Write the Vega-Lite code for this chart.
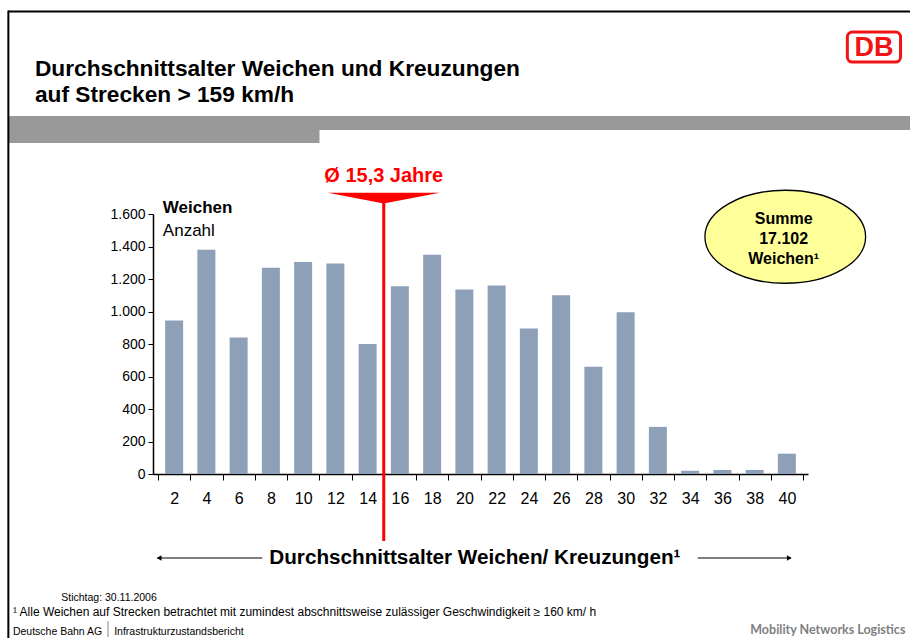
{
  "$schema": "https://vega.github.io/schema/vega-lite/v6.json",
  "width": 655,
  "height": 260,
  "autosize": "none",
  "padding": {"left": 153, "top": 214, "right": 102, "bottom": 164},
  "background": "white",
  "config": {"view": {"stroke": null}, "font": "Liberation Sans", "text": {"font": "Liberation Sans", "color": "black"}},
  "resolve": {"axis": {"x": "independent", "y": "independent"}},
  "datasets": {
    "weichen": [
      {"alter": 2, "anzahl": 945},
      {"alter": 4, "anzahl": 1380},
      {"alter": 6, "anzahl": 840},
      {"alter": 8, "anzahl": 1270},
      {"alter": 10, "anzahl": 1305},
      {"alter": 12, "anzahl": 1295},
      {"alter": 14, "anzahl": 800},
      {"alter": 16, "anzahl": 1155},
      {"alter": 18, "anzahl": 1350},
      {"alter": 20, "anzahl": 1135},
      {"alter": 22, "anzahl": 1160},
      {"alter": 24, "anzahl": 895},
      {"alter": 26, "anzahl": 1100},
      {"alter": 28, "anzahl": 660},
      {"alter": 30, "anzahl": 995},
      {"alter": 32, "anzahl": 290},
      {"alter": 34, "anzahl": 20},
      {"alter": 36, "anzahl": 25},
      {"alter": 38, "anzahl": 25},
      {"alter": 40, "anzahl": 125}
    ],
    "one": [{}]
  },
  "layer": [
    {
      "data": {"name": "weichen"},
      "mark": {"type": "bar", "width": 18, "color": "#8E9FB8"},
      "encoding": {
        "x": {
          "field": "alter", "type": "quantitative",
          "scale": {"domain": [1, 41], "nice": false, "zero": false},
          "axis": {
            "orient": "bottom",
            "values": [1,2,3,4,5,6,7,8,9,10,11,12,13,14,15,16,17,18,19,20,21,22,23,24,25,26,27,28,29,30,31,32,33,34,35,36,37,38,39,40,41],
            "title": null, "grid": false,
            "domainColor": "black", "domainWidth": 1.5,
            "tickColor": "black", "tickSize": 6, "tickWidth": 1,
            "tickOpacity": {"condition": {"test": "datum.value % 2 === 1", "value": 1}, "value": 0},
            "labelExpr": "datum.value % 2 === 0 ? datum.label : ''",
            "labelFontSize": 16, "labelColor": "black", "labelPadding": 10,
            "labelOverlap": false, "labelFlush": false
          }
        },
        "y": {
          "field": "anzahl", "type": "quantitative",
          "scale": {"domain": [0, 1600], "nice": false},
          "axis": {
            "orient": "left",
            "values": [0, 200, 400, 600, 800, 1000, 1200, 1400, 1600],
            "title": null, "grid": false,
            "domainColor": "black", "domainWidth": 1.5,
            "tickColor": "black", "tickSize": 5,
            "labelExpr": "replace(format(datum.value, ','), ',', '.')",
            "labelFontSize": 14, "labelColor": "black", "labelPadding": 3
          }
        }
      }
    },
    {
      "data": {"name": "one"},
      "mark": {"type": "rect", "color": "#999999"},
      "encoding": {
        "x": {"datum": -8.3, "axis": null}, "x2": {"datum": 50},
        "y": {"datum": 2203, "axis": null}, "y2": {"datum": 2117}
      }
    },
    {
      "data": {"name": "one"},
      "mark": {"type": "rect", "color": "#999999"},
      "encoding": {
        "x": {"datum": -8.3, "axis": null}, "x2": {"datum": 11.015},
        "y": {"datum": 2118, "axis": null}, "y2": {"datum": 2037}
      }
    },
    {
      "data": {"name": "one"},
      "mark": {"type": "rule", "color": "black", "strokeWidth": 2},
      "encoding": {
        "x": {"datum": -8.3, "axis": null}, "x2": {"datum": 50},
        "y": {"datum": 2846, "axis": null}
      }
    },
    {
      "data": {"name": "one"},
      "mark": {"type": "rule", "color": "black", "strokeWidth": 2},
      "encoding": {
        "x": {"datum": -8.28, "axis": null},
        "y": {"datum": 2852, "axis": null}, "y2": {"datum": -1100}
      }
    },
    {
      "data": {"name": "one"},
      "mark": {"type": "text", "align": "left", "baseline": "alphabetic", "fontSize": 22.7, "fontWeight": "bold", "text": "Durchschnittsalter Weichen und Kreuzungen"},
      "encoding": {"x": {"datum": -6.63, "axis": null}, "y": {"datum": 2449, "axis": null}}
    },
    {
      "data": {"name": "one"},
      "mark": {"type": "text", "align": "left", "baseline": "alphabetic", "fontSize": 22.7, "fontWeight": "bold", "text": "auf Strecken > 159 km/h"},
      "encoding": {"x": {"datum": -6.63, "axis": null}, "y": {"datum": 2289, "axis": null}}
    },
    {
      "data": {"name": "one"},
      "mark": {"type": "rect", "fill": "white", "stroke": "#F01414", "strokeWidth": 3, "cornerRadius": 5},
      "encoding": {
        "x": {"datum": 43.75, "axis": null}, "x2": {"datum": 47.05},
        "y": {"datum": 2720, "axis": null}, "y2": {"datum": 2535}
      }
    },
    {
      "data": {"name": "one"},
      "mark": {"type": "text", "align": "center", "baseline": "middle", "fontSize": 27, "fontWeight": "bold", "color": "#F01414", "font": "Liberation Sans Narrow, Liberation Sans", "text": "DB"},
      "encoding": {"x": {"datum": 45.4, "axis": null}, "y": {"datum": 2624, "axis": null}}
    },
    {
      "data": {"name": "one"},
      "mark": {"type": "rule", "color": "#FF0000", "strokeWidth": 3},
      "encoding": {
        "x": {"datum": 15, "axis": null},
        "y": {"datum": 1668, "axis": null}, "y2": {"datum": -412}
      }
    },
    {
      "data": {"name": "one"},
      "mark": {"type": "point", "shape": "M -1 -0.095 L 1 -0.095 L 0 0.095 Z", "size": 12544, "filled": true, "color": "#FF0000", "opacity": 1},
      "encoding": {"x": {"datum": 15, "axis": null}, "y": {"datum": 1698, "axis": null}}
    },
    {
      "data": {"name": "one"},
      "mark": {"type": "text", "align": "center", "baseline": "alphabetic", "fontSize": 20, "fontWeight": "bold", "color": "#FF0000", "text": "Ø 15,3 Jahre"},
      "encoding": {"x": {"datum": 15, "axis": null}, "y": {"datum": 1799, "axis": null}}
    },
    {
      "data": {"name": "one"},
      "mark": {"type": "point", "shape": "M -1 0 C -1 -0.3198 -0.5523 -0.579 0 -0.579 C 0.5523 -0.579 1 -0.3198 1 0 C 1 0.3198 0.5523 0.579 0 0.579 C -0.5523 0.579 -1 0.3198 -1 0 Z", "size": 25824, "filled": true, "fill": "#FFFF99", "stroke": "black", "strokeWidth": 1.3, "opacity": 1},
      "encoding": {"x": {"datum": 39.9, "axis": null}, "y": {"datum": 1460, "axis": null}}
    },
    {
      "data": {"name": "one"},
      "mark": {"type": "text", "align": "center", "baseline": "middle", "fontSize": 16, "fontWeight": "bold", "lineHeight": 20, "lineBreak": "\n", "text": "Summe\n17.102\nWeichen¹"},
      "encoding": {"x": {"datum": 39.8, "axis": null}, "y": {"datum": 1567, "axis": null}}
    },
    {
      "data": {"name": "one"},
      "mark": {"type": "text", "align": "left", "baseline": "alphabetic", "fontSize": 17, "fontWeight": "bold", "text": "Weichen"},
      "encoding": {"x": {"datum": 1.3, "axis": null}, "y": {"datum": 1604, "axis": null}}
    },
    {
      "data": {"name": "one"},
      "mark": {"type": "text", "align": "left", "baseline": "alphabetic", "fontSize": 17, "text": "Anzahl"},
      "encoding": {"x": {"datum": 1.3, "axis": null}, "y": {"datum": 1465, "axis": null}}
    },
    {
      "data": {"name": "one"},
      "mark": {"type": "rule", "color": "black", "strokeWidth": 1},
      "encoding": {"x": {"datum": 0.95, "axis": null}, "x2": {"datum": 7.47}, "y": {"datum": -517, "axis": null}}
    },
    {
      "data": {"name": "one"},
      "mark": {"type": "rule", "color": "black", "strokeWidth": 1},
      "encoding": {"x": {"datum": 34.47, "axis": null}, "x2": {"datum": 40.25}, "y": {"datum": -517, "axis": null}}
    },
    {
      "data": {"name": "one"},
      "mark": {"type": "point", "shape": "triangle-left", "size": 30, "filled": true, "color": "black", "opacity": 1},
      "encoding": {"x": {"datum": 1.07, "axis": null}, "y": {"datum": -517, "axis": null}}
    },
    {
      "data": {"name": "one"},
      "mark": {"type": "point", "shape": "triangle-right", "size": 30, "filled": true, "color": "black", "opacity": 1},
      "encoding": {"x": {"datum": 40.15, "axis": null}, "y": {"datum": -517, "axis": null}}
    },
    {
      "data": {"name": "one"},
      "mark": {"type": "text", "align": "center", "baseline": "middle", "fontSize": 20.7, "fontWeight": "bold", "text": "Durchschnittsalter Weichen/ Kreuzungen¹"},
      "encoding": {"x": {"datum": 20.65, "axis": null}, "y": {"datum": -517, "axis": null}}
    },
    {
      "data": {"name": "one"},
      "mark": {"type": "text", "align": "left", "baseline": "alphabetic", "fontSize": 10.5, "text": "Stichtag: 30.11.2006"},
      "encoding": {"x": {"datum": -5.0, "axis": null}, "y": {"datum": -781, "axis": null}}
    },
    {
      "data": {"name": "one"},
      "mark": {"type": "text", "align": "left", "baseline": "alphabetic", "fontSize": 12, "text": "¹ Alle Weichen auf Strecken betrachtet mit zumindest abschnittsweise zulässiger Geschwindigkeit ≥ 160 km/ h"},
      "encoding": {"x": {"datum": -8.0, "axis": null}, "y": {"datum": -874, "axis": null}}
    },
    {
      "data": {"name": "one"},
      "mark": {"type": "text", "align": "left", "baseline": "alphabetic", "fontSize": 10.5, "text": "Deutsche Bahn AG"},
      "encoding": {"x": {"datum": -8.0, "axis": null}, "y": {"datum": -991, "axis": null}}
    },
    {
      "data": {"name": "one"},
      "mark": {"type": "rule", "color": "#888888", "strokeWidth": 1},
      "encoding": {"x": {"datum": -2.1, "axis": null}, "y": {"datum": -905, "axis": null}, "y2": {"datum": -1003}}
    },
    {
      "data": {"name": "one"},
      "mark": {"type": "text", "align": "left", "baseline": "alphabetic", "fontSize": 10.5, "text": "Infrastrukturzustandsbericht"},
      "encoding": {"x": {"datum": -1.72, "axis": null}, "y": {"datum": -991, "axis": null}}
    },
    {
      "data": {"name": "one"},
      "mark": {"type": "text", "align": "right", "baseline": "alphabetic", "fontSize": 12.5, "fontWeight": "bold", "font": "Lato", "color": "#7F7F7F", "text": "Mobility Networks Logistics"},
      "encoding": {"x": {"datum": 47.35, "axis": null}, "y": {"datum": -985, "axis": null}}
    }
  ]
}
